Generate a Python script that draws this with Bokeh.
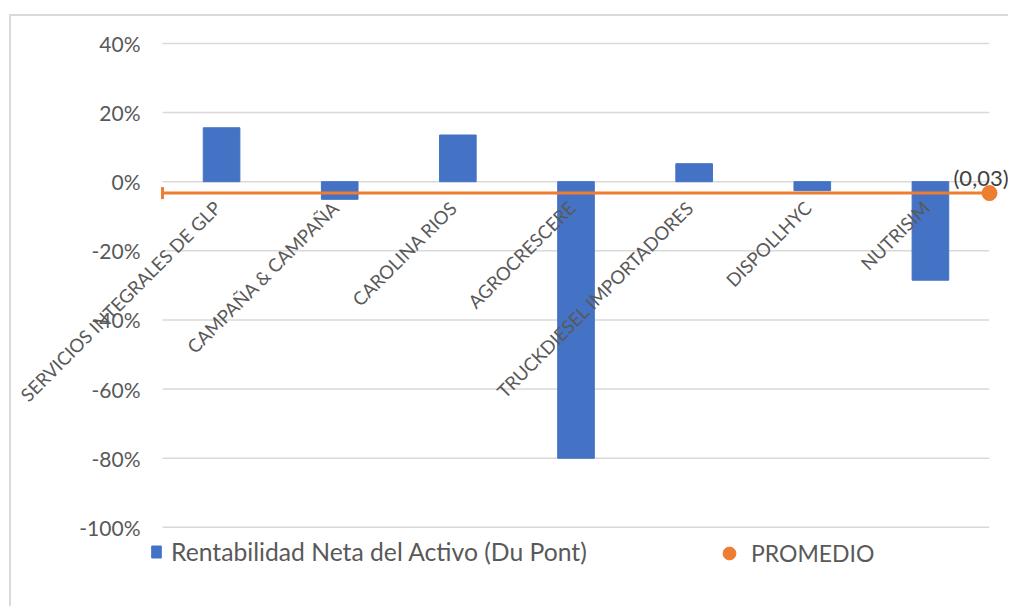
import math
from bokeh.plotting import figure
from bokeh.models import (ColumnDataSource, FixedTicker, NumeralTickFormatter,
                          Legend, LegendItem, Range1d)
from bokeh.core.properties import value
from bokeh.embed import file_html
from bokeh.resources import INLINE

categories = ["SERVICIOS INTEGRALES DE GLP", "CAMPAÑA & CAMPAÑA", "CAROLINA RIOS",
              "AGROCRESCERE", "TRUCKDIESEL IMPORTADORES", "DISPOLLHYC", "NUTRISIM"]
rentabilidad = [0.156, -0.051, 0.135, -0.80, 0.052, -0.026, -0.285]
promedio = -0.033
y_ticks = [-1.0, -0.8, -0.6, -0.4, -0.2, 0.0, 0.2, 0.4]
series_names = ["Rentabilidad Neta del Activo (Du Pont)", "PROMEDIO"]

FONT = "Lato"
GRAY = "#595959"
n = len(categories)
xs = [i + 0.5 for i in range(n)]

p = figure(frame_width=842, frame_height=560, output_backend="svg", toolbar_location=None,
           x_range=Range1d(-0.127, n), y_range=Range1d(-1.2, 0.42),
           min_border_left=136, min_border_right=19, min_border_top=20, min_border_bottom=10,
           styles={"margin-left": "9px", "margin-top": "14px",
                   "border-left": "2px solid #d9d9d9", "border-top": "2px solid #d9d9d9"})
p.outline_line_color = None
p.xaxis.visible = False
p.xgrid.grid_line_color = None
p.ygrid.grid_line_color = None

ya = p.yaxis[0]
ya.ticker = FixedTicker(ticks=y_ticks)
ya.formatter = NumeralTickFormatter(format="0%")
ya.axis_line_color = None
ya.major_tick_line_color = None
ya.minor_tick_line_color = None
ya.major_label_text_font = FONT
ya.major_label_text_font_size = "21px"
ya.major_label_text_color = GRAY
ya.major_label_standoff = 1

# horizontal gridlines spanning the category area
p.segment(x0=[0] * len(y_ticks), x1=[n] * len(y_ticks), y0=y_ticks, y1=y_ticks,
          line_color="#d9d9d9", line_width=1.5, level="underlay")

src = ColumnDataSource(dict(x=xs, top=rentabilidad, cat=categories, y0=[0] * n))
bars = p.vbar(x="x", top="top", bottom=0, width=0.31, source=src,
              fill_color="#4472c4", line_color="#4472c4", line_width=1)

prom_src = ColumnDataSource(dict(x=[0, n], y=[promedio, promedio]))
p.line(x="x", y="y", source=prom_src, line_color="#ed7d31", line_width=3)
p.scatter(x=[0], y=[promedio], marker="dash", angle=math.pi / 2, size=12,
          line_color="#ed7d31", line_width=3, level="overlay")
dot = p.scatter(x=[n], y=[promedio], marker="circle", size=15,
                fill_color="#ed7d31", line_color="#ed7d31", level="overlay")

lbl = "(" + f"{abs(promedio):.2f}".replace(".", ",") + ")"
p.text(x=[n], y=[promedio], text=[lbl], x_offset=-36, y_offset=-16,
       text_font=value(FONT), text_font_size="22px", text_color="#404040",
       text_baseline="alphabetic", level="overlay")

p.text(x="x", y="y0", text="cat", source=src, angle=math.pi / 4,
       text_align="right", text_baseline="top", x_offset=-12, y_offset=15,
       text_font=value(FONT), text_font_size="18.5px", text_color=GRAY, level="overlay")

leg1 = Legend(items=[LegendItem(label=series_names[0], renderers=[bars])],
              location=(3, 30), glyph_width=12, glyph_height=15, label_standoff=9,
              padding=0, margin=0, border_line_color=None, background_fill_alpha=0,
              label_text_font=FONT, label_text_font_size="24.7px", label_text_color=GRAY)
leg2 = Legend(items=[LegendItem(label=series_names[1], renderers=[dot])],
              location=(566, 27), glyph_width=32, glyph_height=32, label_standoff=6,
              padding=0, margin=0, border_line_color=None, background_fill_alpha=0,
              label_text_font=FONT, label_text_font_size="23px", label_text_color=GRAY)
p.add_layout(leg1, "center")
p.add_layout(leg2, "center")

open("out.html", "w").write(file_html(p, INLINE))
